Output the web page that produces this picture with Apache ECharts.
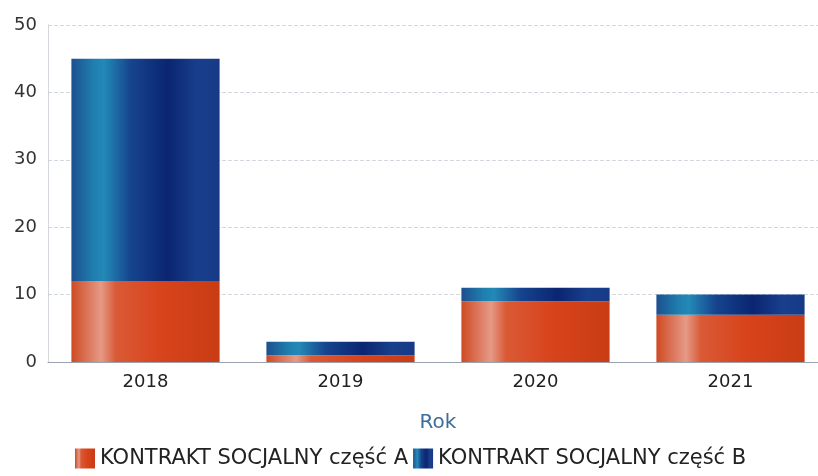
<!DOCTYPE html>
<html>
<head>
<meta charset="utf-8">
<script src="https://cdn.jsdelivr.net/npm/echarts@6/dist/echarts.min.js"></script>
<style>html,body{margin:0;padding:0;background:#fff;}#c{width:818px;height:476px;}</style>
</head>
<body>
<div id="c"></div>
<script>
const categories = ['2018', '2019', '2020', '2021'];
const partA = [12, 1, 9, 7];
const partB = [33, 2, 2, 3];
const seriesNames = ['KONTRAKT SOCJALNY część A', 'KONTRAKT SOCJALNY część B'];
const axisTitle = 'Rok';

const orangeGrad = {type:'linear', x:0, y:0, x2:1, y2:0, colorStops:[
  {offset:0, color:'#cf4a22'},
  {offset:0.12, color:'#dc7a60'},
  {offset:0.2, color:'#e59a86'},
  {offset:0.3, color:'#d95a36'},
  {offset:0.6, color:'#d8441c'},
  {offset:1, color:'#c93c14'}
]};
const blueGrad = {type:'linear', x:0, y:0, x2:1, y2:0, colorStops:[
  {offset:0, color:'#1d4f8f'},
  {offset:0.15, color:'#1f7fae'},
  {offset:0.22, color:'#2389b6'},
  {offset:0.4, color:'#16448e'},
  {offset:0.65, color:'#0b2571'},
  {offset:0.85, color:'#183f8c'},
  {offset:1, color:'#173a86'}
]};

const FONT = 'DejaVu Sans';
const chart = echarts.init(document.getElementById('c'), null, {renderer:'canvas'});
chart.setOption({
  animation:false,
  backgroundColor:'#ffffff',
  textStyle:{fontFamily:FONT},
  grid:{left:48, top:25, width:780, height:337, outerBoundsMode:'none', containLabel:false},
  legend:{
    data:seriesNames, left:70, top:443, itemWidth:20, itemHeight:20, itemGap:5,
    icon:'rect',
    textStyle:{fontSize:21, color:'#222', fontFamily:FONT}
  },
  xAxis:{
    type:'category', data:categories,
    name:axisTitle, nameLocation:'middle', nameGap:51,
    nameTextStyle:{fontSize:20, color:'#3f6c99', fontFamily:FONT},
    axisTick:{show:false},
    axisLine:{lineStyle:{color:'#9aa3ad', width:1}},
    axisLabel:{fontSize:18, color:'#222', margin:11}
  },
  yAxis:{
    type:'value', min:0, max:50, interval:10,
    axisLine:{show:true, lineStyle:{color:'#c9ced6', type:'dotted'}},
    axisTick:{show:false},
    axisLabel:{fontSize:18, color:'#333', margin:11},
    splitLine:{lineStyle:{color:'#d3d8df', type:'dashed', width:1}}
  },
  series:[
    {name:seriesNames[0], type:'bar', stack:'t', data:partA, barCategoryGap:'24%', itemStyle:{color:orangeGrad}},
    {name:seriesNames[1], type:'bar', stack:'t', data:partB, barCategoryGap:'24%', itemStyle:{color:blueGrad}}
  ]
});
</script>
</body>
</html>
